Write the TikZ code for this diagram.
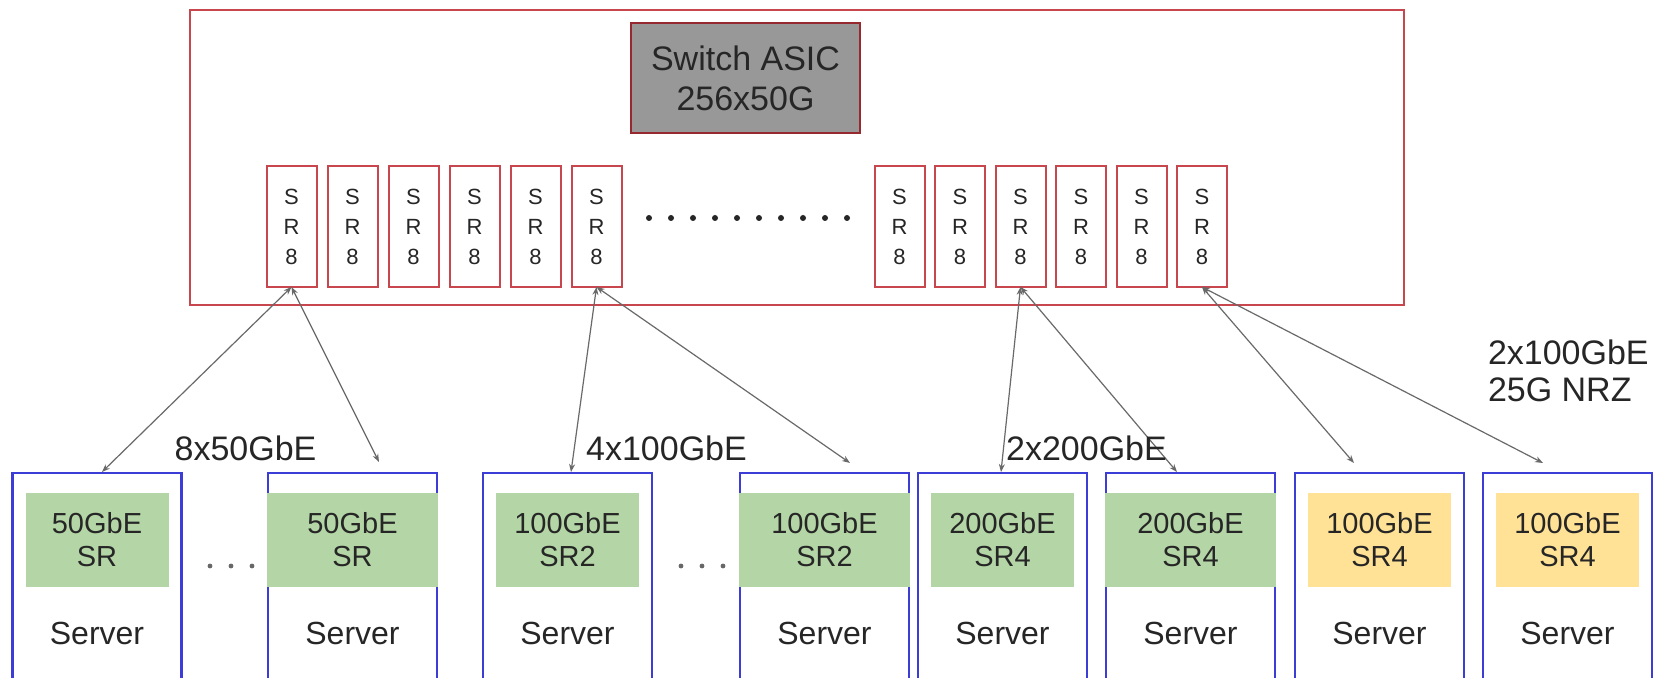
\documentclass[tikz,border=0pt]{standalone}
\usepackage{fontspec}
\setmainfont{Liberation Sans}
\usetikzlibrary{arrows.meta,calc}
\definecolor{redline}{RGB}{200,70,78}
\definecolor{asicfill}{RGB}{152,152,152}
\definecolor{asicline}{RGB}{150,40,48}
\definecolor{blueline}{RGB}{60,60,215}
\definecolor{greenfill}{RGB}{180,214,166}
\definecolor{yellowfill}{RGB}{255,226,150}
\definecolor{txt}{RGB}{38,38,38}
\definecolor{arrowgray}{RGB}{105,105,105}
\begin{document}
\begin{tikzpicture}[x=0.5pt,y=-0.5pt,
  every node/.style={inner sep=0pt, outer sep=0pt, text=txt},
  outerbox/.style={draw=redline, line width=1pt, minimum width=607pt, minimum height=147.5pt},
  asicbox/.style={draw=asicline, line width=1.3pt, fill=asicfill, minimum width=114.5pt, minimum height=55pt, align=center, font=\fontsize{17}{20}\selectfont},
  srbox/.style={draw=redline, line width=1pt, fill=white, minimum width=25pt, minimum height=60.5pt, align=center, font=\fontsize{11}{15}\selectfont},
  serverbox/.style={draw=blueline, line width=1.3pt, anchor=north west, minimum width=84.5pt, minimum height=130pt},
  nicin/.style={minimum width=71.5pt, minimum height=47pt, align=center, font=\fontsize{14.5}{16.5}\selectfont},
  nicfull/.style={minimum width=85.5pt, minimum height=47pt, align=center, font=\fontsize{14.5}{16.5}\selectfont},
  srvlabel/.style={font=\fontsize{16}{18}\selectfont},
  linklabel/.style={font=\fontsize{17}{17}\selectfont},
  link/.style={draw=arrowgray, line width=0.6pt, {Stealth[length=4pt,width=3pt]}-{Stealth[length=4pt,width=3pt]}},
  dotmark/.style={fill=txt, circle, minimum size=2.6pt}
]
\clip (0,0) rectangle (1656,678);
\fill[white] (0,0) rectangle (1656,678);

% switch
\node[outerbox] (switch) at (797,157.5) {};
\node[asicbox] (asic) at (745.5,78) {Switch ASIC\\256x50G};

\foreach \n/\x in {L1/291.5,L2/352.5,L3/413.5,L4/474.5,L5/535.5,L6/596.5,
                   R1/899.5,R2/960,R3/1020.5,R4/1081,R5/1141.5,R6/1202}
  \node[srbox] (\n) at (\x,226.5) {S\\R\\8};

\foreach \i in {0,...,9}
  \node[dotmark, minimum size=3pt] (td\i) at (649+22*\i,218) {};

% servers
\foreach \n/\x in {s1/12.5,s2/268,s3/483,s4/740,s5/918,s6/1106,s7/1295,s8/1483}
  \node[serverbox] (\n) at (\x,473) {};

% NIC boxes
\node[nicin, fill=greenfill] (n1) at ($(s1.north)+(0,67)$) {50GbE\\SR};
\node[nicfull, fill=greenfill] (n2) at ($(s2.north)+(0,67)$) {50GbE\\SR};
\node[nicin, fill=greenfill] (n3) at ($(s3.north)+(0,67)$) {100GbE\\SR2};
\node[nicfull, fill=greenfill] (n4) at ($(s4.north)+(0,67)$) {100GbE\\SR2};
\node[nicin, fill=greenfill] (n5) at ($(s5.north)+(0,67)$) {200GbE\\SR4};
\node[nicfull, fill=greenfill] (n6) at ($(s6.north)+(0,67)$) {200GbE\\SR4};
\node[nicin, fill=yellowfill] (n7) at ($(s7.north)+(0,67)$) {100GbE\\SR4};
\node[nicin, fill=yellowfill] (n8) at ($(s8.north)+(0,67)$) {100GbE\\SR4};

\foreach \n in {1,...,8}
  \node[srvlabel] (t\n) at ($(s\n.north)+(0,160)$) {Server};

% ellipsis dots between servers
\foreach \x [count=\k] in {210,231,252}
  \node[dotmark, minimum size=2.4pt, fill=txt!70] (da\k) at (\x,566) {};
\foreach \x [count=\k] in {681,702,723}
  \node[dotmark, minimum size=2.4pt, fill=txt!70] (db\k) at (\x,566) {};

% link end points
\coordinate (e1) at (102,472);
\coordinate (e2) at (379,462);
\coordinate (e3) at (571,472);
\coordinate (e4) at (850,463);
\coordinate (e5) at (1001,472);
\coordinate (e6) at (1177,472);
\coordinate (e7) at (1354,463);
\coordinate (e8) at (1543,463);

\draw[link] (L1.south) -- (e1);
\draw[link] (L1.south) -- (e2);
\draw[link] (L6.south) -- (e3);
\draw[link] (L6.south) -- (e4);
\draw[link] (R3.south) -- (e5);
\draw[link] (R3.south) -- (e6);
\draw[link] (R6.south) -- (e7);
\draw[link] (R6.south) -- (e8);

% labels
\node[linklabel] (lab1) at (245.5,448) {8x50GbE};
\node[linklabel] (lab2) at (666.5,448) {4x100GbE};
\node[linklabel] (lab3) at (1086.5,448) {2x200GbE};
\node[linklabel, anchor=west, align=left, font=\fontsize{17}{18.5}\selectfont] (lab4) at (1488,371) {2x100GbE\\25G NRZ};
\end{tikzpicture}
\end{document}
